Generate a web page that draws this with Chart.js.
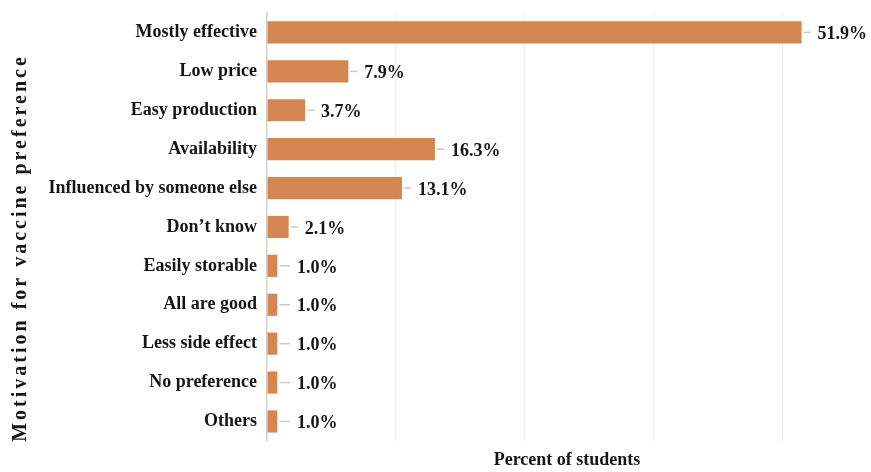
<!DOCTYPE html>
<html>
<head>
<meta charset="utf-8">
<script src="https://cdn.jsdelivr.net/npm/chart.js@4/dist/chart.umd.min.js"></script>
<style>
html,body{margin:0;padding:0;background:#fff;}
#wrap{width:871px;height:472px;position:relative;}
</style>
</head>
<body>
<div id="wrap"><canvas id="c" width="871" height="472"></canvas></div>
<script>
const categories = ["Mostly effective","Low price","Easy production","Availability","Influenced by someone else","Don\u2019t know","Easily storable","All are good","Less side effect","No preference","Others"];
const percentValues = [51.9, 7.9, 3.7, 16.3, 13.1, 2.1, 1.0, 1.0, 1.0, 1.0, 1.0];
const valueLabels = ["51.9%","7.9%","3.7%","16.3%","13.1%","2.1%","1.0%","1.0%","1.0%","1.0%","1.0%"];
const xTitle = "Percent of students";
const yTitle = "Motivation for vaccine preference";

const FONT = "'Liberation Serif','Times New Roman',serif";

const labelPlugin = {
  id: 'valueLabels',
  afterDatasetsDraw(chart) {
    const ctx = chart.ctx;
    const meta = chart.getDatasetMeta(0);
    ctx.save();
    ctx.font = "bold 18px " + FONT;
    ctx.textBaseline = 'middle';
    ctx.textAlign = 'left';
    meta.data.forEach((bar, i) => {
      const endX = bar.x;
      const y = bar.y;
      const textX = Math.max(endX + 16, 297);
      ctx.strokeStyle = '#cfc6bf';
      ctx.lineWidth = 1.5;
      ctx.beginPath();
      ctx.moveTo(endX + 2, y);
      ctx.lineTo(textX - 7, y);
      ctx.stroke();
      ctx.fillStyle = '#151515';
      ctx.fillText(valueLabels[i], textX, y + 2);
    });
    ctx.restore();
  }
};

const yTitlePlugin = {
  id: 'yTitleSpaced',
  afterDraw(chart) {
    const ctx = chart.ctx;
    ctx.save();
    ctx.translate(21, 248);
    ctx.rotate(-Math.PI / 2);
    ctx.font = "bold 20px " + FONT;
    try { ctx.letterSpacing = '3px'; } catch (e) {}
    ctx.fillStyle = '#151515';
    ctx.textAlign = 'center';
    ctx.textBaseline = 'middle';
    ctx.fillText(yTitle, 0, 0);
    ctx.restore();
  }
};

new Chart(document.getElementById('c'), {
  type: 'bar',
  data: {
    labels: categories,
    datasets: [{
      data: percentValues,
      backgroundColor: '#d3864f',
      borderWidth: 0,
      categoryPercentage: 1.0,
      barPercentage: 0.57
    }]
  },
  options: {
    indexAxis: 'y',
    responsive: false,
    animation: false,
    devicePixelRatio: 1,
    layout: { padding: { left: 0, top: 13, right: 4, bottom: 0 } },
    plugins: {
      legend: { display: false },
      tooltip: { enabled: false }
    },
    scales: {
      x: {
        min: 0,
        max: 58.25,
        ticks: { display: false, stepSize: 12.5 },
        grid: {
          drawTicks: false,
          color: (c) => (c.tick && c.tick.value > 0 && Math.abs(c.tick.value % 12.5) < 1e-6) ? '#efefef' : 'rgba(0,0,0,0)',
          lineWidth: 1
        },
        border: { display: false },
        title: {
          display: true,
          text: xTitle,
          color: '#151515',
          font: { family: FONT, size: 18, weight: 'bold' },
          padding: { top: 8.5, bottom: 1 }
        }
      },
      y: {
        ticks: {
          color: '#151515',
          font: { family: FONT, size: 18, weight: 'bold' },
          padding: 10
        },
        grid: { display: false, drawTicks: false },
        border: { display: true, color: '#d8cfc8', width: 1.5 },
        afterFit(scale) { scale.width = 267; scale.paddingTop = 0; scale.paddingBottom = 0; }
      }
    }
  },
  plugins: [labelPlugin, yTitlePlugin]
});
</script>
</body>
</html>
